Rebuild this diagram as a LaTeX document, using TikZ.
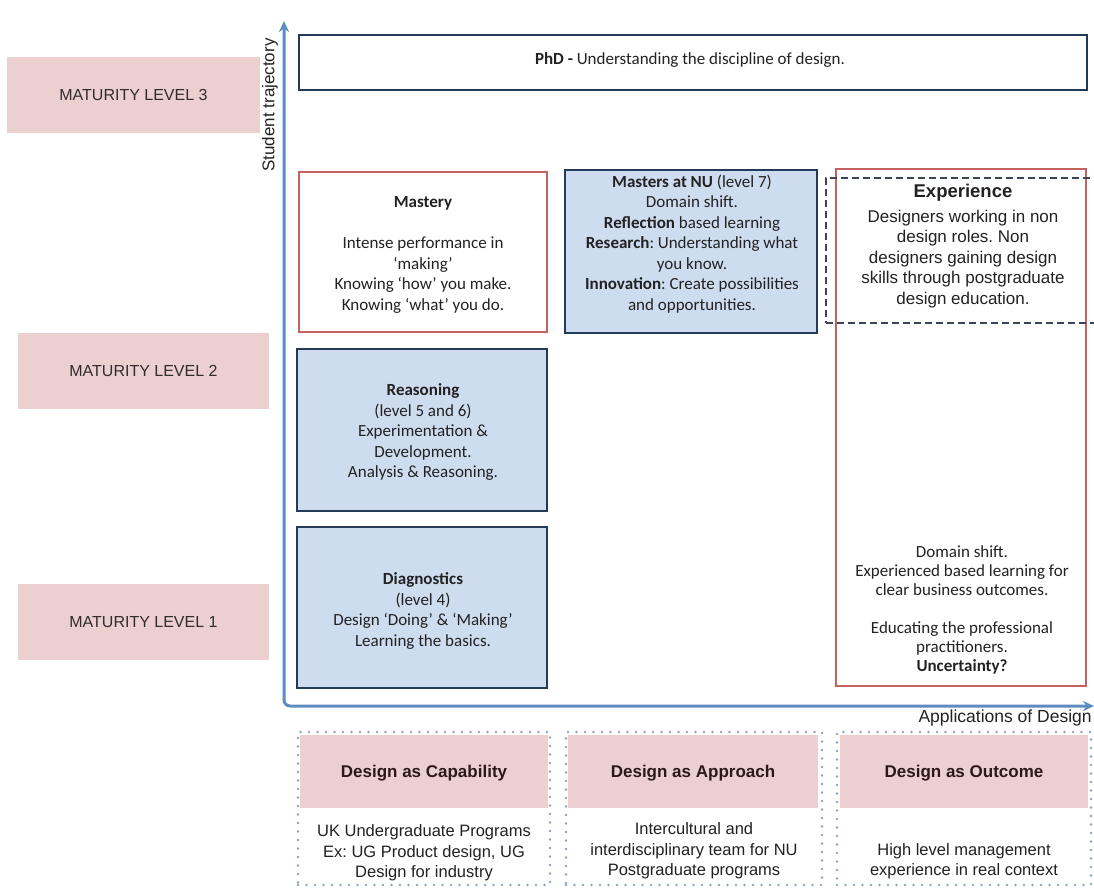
\documentclass[tikz,border=0pt]{standalone}
\usepackage{fontspec}
\setmainfont{Carlito}
\newfontfamily\arialf{Liberation Sans}
\usetikzlibrary{arrows.meta}
\definecolor{pinkfill}{RGB}{236,208,208}
\definecolor{bluefill}{RGB}{206,220,239}
\definecolor{navy}{RGB}{35,58,88}
\definecolor{redline}{RGB}{196,98,98}
\definecolor{axisblue}{RGB}{92,140,192}
\definecolor{dashgray}{RGB}{58,70,86}
\definecolor{dotblue}{RGB}{138,164,192}
\definecolor{txt}{RGB}{34,34,34}
\definecolor{lvltxt}{RGB}{50,44,44}
\definecolor{hdrtxt}{RGB}{45,25,25}
\frenchspacing
\begin{document}
\begin{tikzpicture}[x=1pt,y=-1pt,
  rect/.style={rectangle, inner sep=0pt, outer sep=0pt},
  levelbox/.style={rect, fill=pinkfill},
  navybox/.style={rect, draw=navy, line width=2.4pt},
  bluebox/.style={navybox, fill=bluefill},
  redbox/.style={rect, draw=redline, line width=2pt, fill=white},
  dashbox/.style={rect, draw=dashgray, line width=2.6pt, dash pattern=on 7pt off 4pt},
  dotbox/.style={rect, draw=dotblue, line width=2.6pt, line cap=round, dash pattern=on 0pt off 8.5pt},
  hdrbox/.style={rect, fill=pinkfill},
  lvltext/.style={font=\arialf\fontsize{16}{19}\selectfont, text=lvltxt},
  cal/.style={font=\fontsize{17}{20.5}\selectfont, text=txt, align=center},
  ari/.style={font=\arialf\fontsize{17}{20.5}\selectfont, text=txt, align=center},
  hdr/.style={font=\arialf\bfseries\fontsize{17}{20}\selectfont, text=hdrtxt},
  axis/.style={draw=axisblue, line width=3pt, rounded corners=6pt}
]
\useasboundingbox[fill=white] (0,0) rectangle (1094,888);

% maturity levels
\node[levelbox, minimum width=253, minimum height=76] (l3) at (133.5,95) {};
\node[lvltext] (l3t) at (l3.center) {MATURITY LEVEL 3};
\node[levelbox, minimum width=251, minimum height=76] (l2) at (143.5,371) {};
\node[lvltext] (l2t) at (l2.center) {MATURITY LEVEL 2};
\node[levelbox, minimum width=251, minimum height=76] (l1) at (143.5,622) {};
\node[lvltext] (l1t) at (l1.center) {MATURITY LEVEL 1};

% axes
\coordinate (ytip) at (284,21);
\coordinate (corner) at (284,706);
\coordinate (xtip) at (1094,706);
\draw[axis, {Stealth[length=11pt,width=10pt]}-{Stealth[length=11pt,width=10pt]}] (ytip) -- (corner) -- (xtip);
\node[font=\arialf\fontsize{17}{20}\selectfont, text=txt, rotate=90] (ylab) at (270,105) {Student trajectory};
\node[font=\arialf\fontsize{17.5}{20}\selectfont, text=txt, anchor=west] (xlab) at (915,718) {Applications of Design};

% PhD
\node[navybox, fill=white, minimum width=788, minimum height=55] (phd) at (693,62.5) {};
\node[cal] (phdt) at (690,60) {\textbf{PhD -} Understanding the discipline of design.};

% Mastery
\node[redbox, minimum width=248, minimum height=160] (mastery) at (423,252) {};
\node[cal] (masteryt) at (423,255) {\textbf{Mastery}\\[20.5pt]Intense performance in\\‘making’\\Knowing ‘how’ you make.\\Knowing ‘what’ you do.};

% Masters
\node[bluebox, minimum width=252, minimum height=163] (masters) at (691,251.5) {};
\node[cal] (masterst) at (692,244) {\textbf{Masters at NU} (level 7)\\Domain shift.\\\textbf{Reflection} based learning\\\textbf{Research}: Understanding what\\you know.\\\textbf{Innovation}: Create possibilities\\and opportunities.};

% Reasoning
\node[bluebox, minimum width=250, minimum height=162] (reason) at (422,430) {};
\node[cal] (reasont) at (423,432) {\textbf{Reasoning}\\(level 5 and 6)\\Experimentation \&\\Development.\\Analysis \& Reasoning.};

% Diagnostics
\node[bluebox, minimum width=250, minimum height=161] (diag) at (422,607.5) {};
\node[cal] (diagt) at (423,611) {\textbf{Diagnostics}\\(level 4)\\Design ‘Doing’ \& ‘Making’\\Learning the basics.};

% Experience
\node[redbox, minimum width=250, minimum height=517] (exp) at (961,427.5) {};
\node[dashbox, minimum width=274, minimum height=145] (expdash) at (963,250.5) {};
\node[font=\arialf\bfseries\fontsize{18.5}{21}\selectfont, text=txt] (expt) at (963,193) {Experience};
\node[ari] (expd) at (963,259) {Designers working in non\\design roles. Non\\designers gaining design\\skills through postgraduate\\design education.};
\node[cal, font=\fontsize{17}{19}\selectfont] (explow) at (962,610) {Domain shift.\\Experienced based learning for\\clear business outcomes.\\[19pt]Educating the professional\\practitioners.\\\textbf{Uncertainty?}};

% bottom columns
\node[dotbox, minimum width=252, minimum height=153] (col1) at (424,808.5) {};
\node[dotbox, minimum width=256, minimum height=153] (col2) at (694,808.5) {};
\node[dotbox, minimum width=254, minimum height=153] (col3) at (964,808.5) {};
\node[hdrbox, minimum width=248, minimum height=73] (h1) at (424,771.5) {};
\node[hdrbox, minimum width=250, minimum height=73] (h2) at (693,771.5) {};
\node[hdrbox, minimum width=248, minimum height=73] (h3) at (964,771.5) {};
\node[hdr] (h1t) at (424,773) {Design as Capability};
\node[hdr] (h2t) at (693,773) {Design as Approach};
\node[hdr] (h3t) at (964,773) {Design as Outcome};
\node[ari, font=\arialf\fontsize{16.5}{20.5}\selectfont] (c1t) at (424,853) {UK Undergraduate Programs\\Ex: UG Product design, UG\\Design for industry};
\node[ari, font=\arialf\fontsize{16.5}{20.5}\selectfont] (c2t) at (694,851) {Intercultural and\\interdisciplinary team for NU\\Postgraduate programs};
\node[ari, font=\arialf\fontsize{16.5}{20.5}\selectfont] (c3t) at (964,861) {High level management\\experience in real context};
\end{tikzpicture}
\end{document}
